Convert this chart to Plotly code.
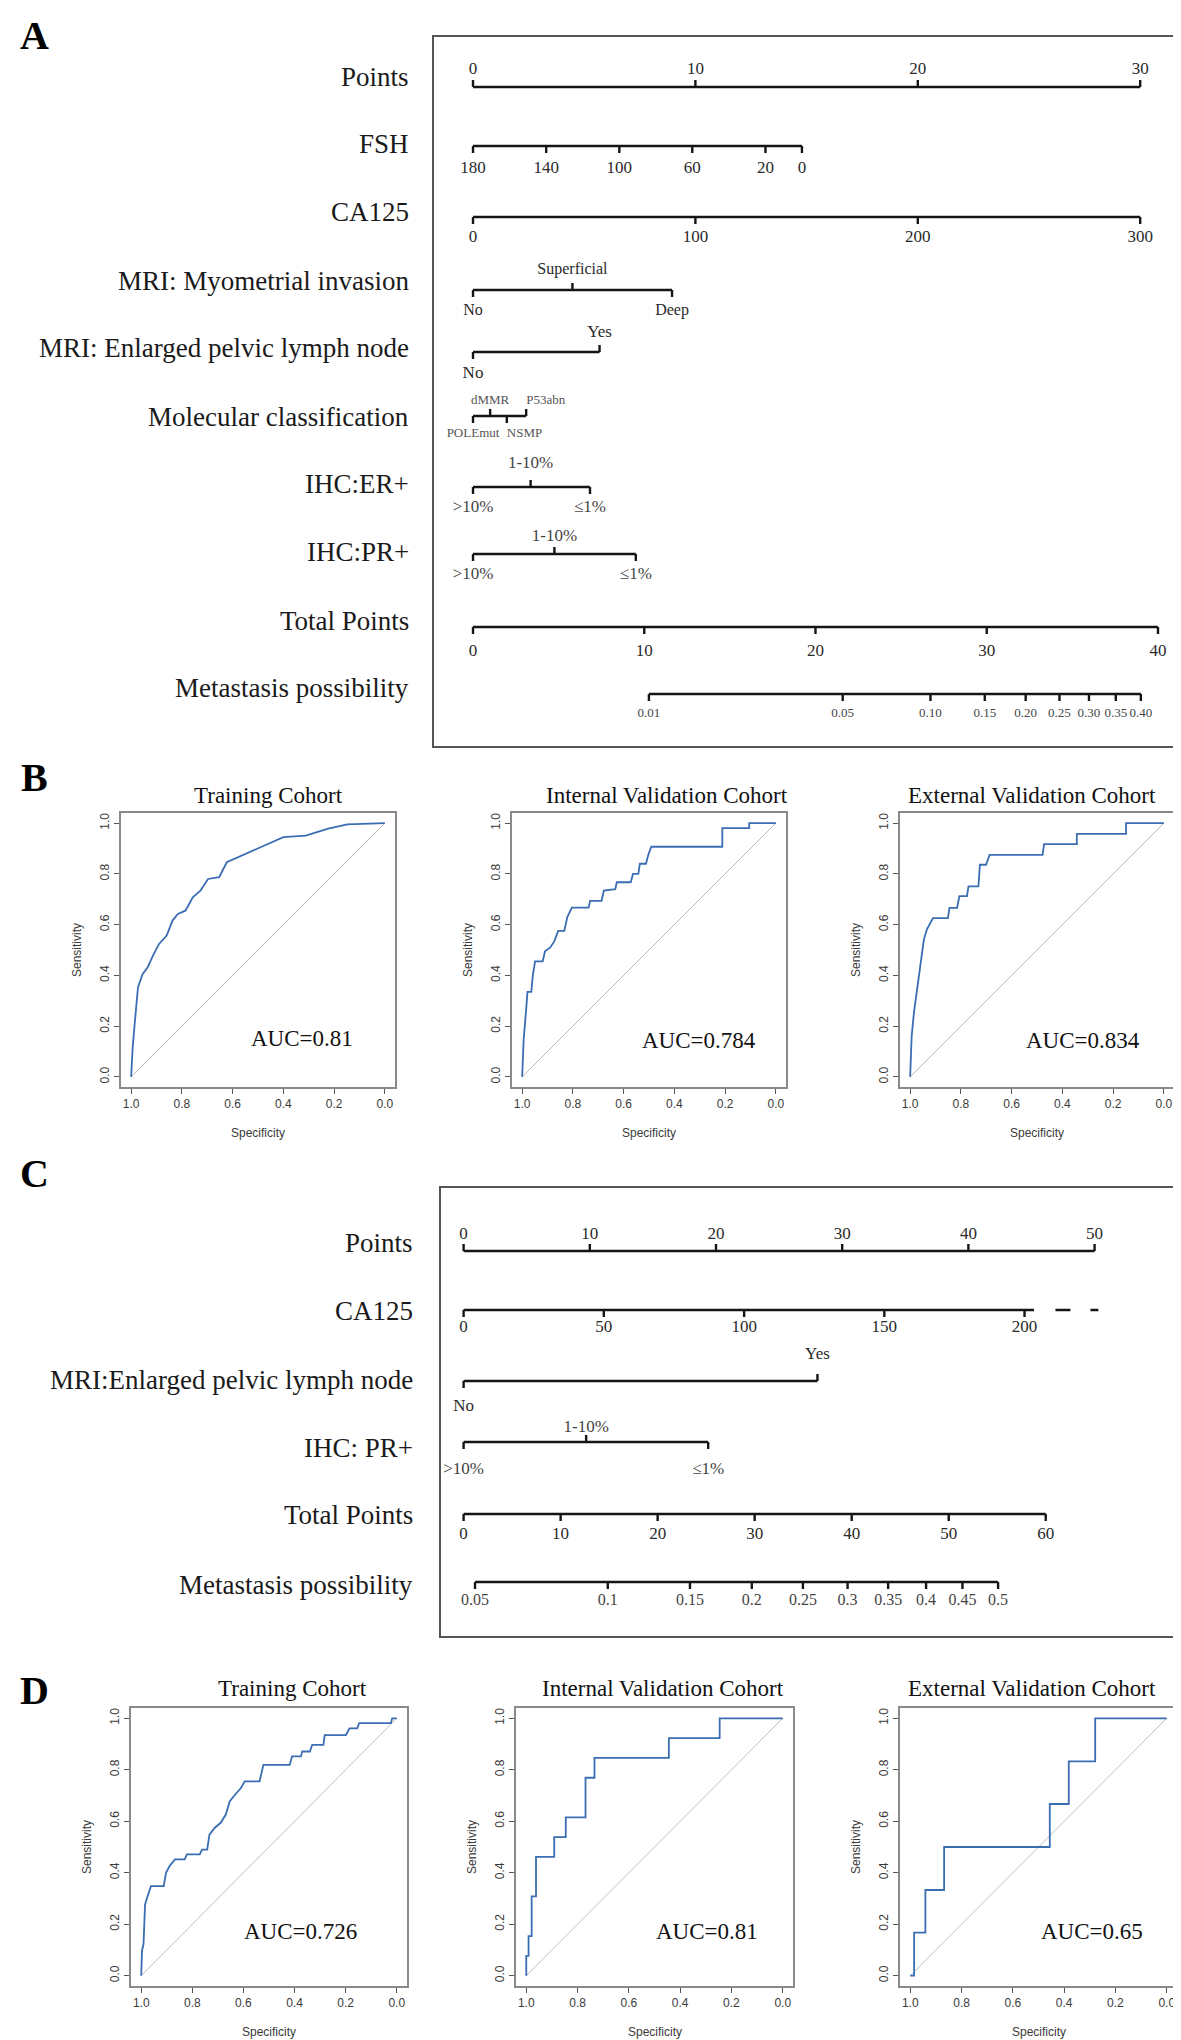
import numpy as np
import plotly.graph_objects as go

W, H = 1181, 2040

# ---------------- Panel A nomogram data ----------------
A_points_ticks = [0, 10, 20, 30]
A_fsh_levels = [180, 140, 100, 60, 20, 0]
A_fsh_points = [0, 3.29, 6.58, 9.86, 13.15, 14.79]
A_ca125_levels = [0, 100, 200, 300]
A_ca125_points = [0, 10, 20, 30]
A_mi_levels = ["No", "Superficial", "Deep"]
A_mi_points = [0, 4.47, 8.95]
A_epln_levels = ["No", "Yes"]
A_epln_points = [0, 5.69]
A_mol_levels = ["POLEmut", "dMMR", "NSMP", "P53abn"]
A_mol_points = [0, 0.77, 1.52, 2.39]
A_er_levels = [">10%", "1-10%", "≤1%"]
A_er_points = [0, 2.59, 5.26]
A_pr_levels = [">10%", "1-10%", "≤1%"]
A_pr_points = [0, 3.66, 7.32]
A_total_ticks = [0, 10, 20, 30, 40]
A_total_span = 30.8          # 40 total points on the Points scale
A_prob_ticks = [0.01, 0.05, 0.10, 0.15, 0.20, 0.25, 0.30, 0.35, 0.40]
A_prob_labels = ["0.01", "0.05", "0.10", "0.15", "0.20", "0.25", "0.30", "0.35", "0.40"]
A_lp_a, A_lp_b = 41.78, 6.857   # total points = a + b*logit(p)

# ---------------- Panel C nomogram data ----------------
C_points_ticks = [0, 10, 20, 30, 40, 50]
C_ca125_levels = [0, 50, 100, 150, 200]
C_ca125_points = [0, 11.11, 22.23, 33.34, 44.45]
C_ca125_end = 45.2
C_ca125_dash = [46.9, 50.3]
C_epln_levels = ["No", "Yes"]
C_epln_points = [0, 28.04]
C_pr_levels = [">10%", "1-10%", "≤1%"]
C_pr_points = [0, 9.71, 19.38]
C_total_ticks = [0, 10, 20, 30, 40, 50, 60]
C_total_span = 46.13         # 60 total points on the Points scale
C_prob_ticks = [0.05, 0.1, 0.15, 0.2, 0.25, 0.3, 0.35, 0.4, 0.45, 0.5]
C_prob_labels = ["0.05", "0.1", "0.15", "0.2", "0.25", "0.3", "0.35", "0.4", "0.45", "0.5"]
C_lp_a, C_lp_b = 55.09, 18.31

# ---------------- ROC data (specificity, sensitivity) ----------------
B_train_spec = [1.0, 0.994, 0.985, 0.973, 0.955, 0.935, 0.914, 0.89, 0.86, 0.837, 0.816, 0.786, 0.757, 0.727,
                0.697, 0.653, 0.623, 0.593, 0.549, 0.49, 0.445, 0.4, 0.312, 0.267, 0.223, 0.148, 0.03, 0.0]
B_train_sens = [0.0, 0.116, 0.221, 0.353, 0.405, 0.432, 0.478, 0.524, 0.557, 0.616, 0.642, 0.655, 0.708, 0.734,
                0.78, 0.787, 0.846, 0.859, 0.879, 0.905, 0.925, 0.945, 0.951, 0.964, 0.978, 0.995, 1.0, 1.0]
B_int_spec = [1.0, 0.994, 0.985, 0.979, 0.964, 0.958, 0.949, 0.919, 0.91, 0.889, 0.873, 0.858, 0.834, 0.822,
              0.804, 0.738, 0.732, 0.687, 0.678, 0.633, 0.627, 0.572, 0.563, 0.542, 0.536, 0.512, 0.503, 0.491,
              0.211, 0.211, 0.105, 0.105, 0.0]
B_int_sens = [0.0, 0.149, 0.255, 0.335, 0.335, 0.40, 0.455, 0.455, 0.495, 0.51, 0.535, 0.575, 0.575, 0.63,
              0.667, 0.667, 0.694, 0.694, 0.734, 0.74, 0.767, 0.767, 0.80, 0.80, 0.84, 0.84, 0.874, 0.907,
              0.907, 0.98, 0.98, 1.0, 1.0]
B_ext_spec = [1.0, 0.994, 0.985, 0.97, 0.955, 0.946, 0.934, 0.91, 0.851, 0.845, 0.815, 0.806, 0.776, 0.770,
              0.731, 0.725, 0.701, 0.687, 0.478, 0.472, 0.343, 0.343, 0.149, 0.149, 0.0]
B_ext_sens = [0.0, 0.161, 0.253, 0.371, 0.476, 0.541, 0.581, 0.626, 0.626, 0.666, 0.666, 0.712, 0.712, 0.751,
              0.751, 0.836, 0.836, 0.875, 0.875, 0.917, 0.917, 0.958, 0.958, 1.0, 1.0]
D_train_spec = [1.0, 0.997, 0.991, 0.985, 0.977, 0.962, 0.912, 0.903, 0.889, 0.868, 0.83, 0.821, 0.771, 0.762,
                0.742, 0.733, 0.713, 0.689, 0.669, 0.654, 0.633, 0.61, 0.595, 0.537, 0.522, 0.419, 0.41, 0.375,
                0.37, 0.34, 0.331, 0.287, 0.282, 0.199, 0.185, 0.155, 0.147, 0.023, 0.018, 0.0]
D_train_sens = [0.0, 0.097, 0.123, 0.277, 0.303, 0.348, 0.348, 0.4, 0.426, 0.452, 0.452, 0.471, 0.471, 0.49,
                0.49, 0.548, 0.574, 0.594, 0.626, 0.677, 0.703, 0.729, 0.755, 0.755, 0.819, 0.819, 0.852, 0.852,
                0.871, 0.871, 0.897, 0.897, 0.935, 0.935, 0.961, 0.961, 0.981, 0.981, 1.0, 1.0]
D_int_spec = [1.0, 1.0, 0.991, 0.991, 0.979, 0.979, 0.962, 0.962, 0.891, 0.891, 0.846, 0.846, 0.769, 0.769,
              0.734, 0.734, 0.444, 0.444, 0.246, 0.246, 0.0]
D_int_sens = [0.0, 0.077, 0.077, 0.154, 0.154, 0.308, 0.308, 0.462, 0.462, 0.538, 0.538, 0.615, 0.615, 0.769,
              0.769, 0.846, 0.846, 0.923, 0.923, 1.0, 1.0]
D_ext_spec = [1.0, 0.985, 0.985, 0.941, 0.941, 0.868, 0.868, 0.456, 0.456, 0.382, 0.382, 0.279, 0.279, 0.0]
D_ext_sens = [0.0, 0.0, 0.167, 0.167, 0.333, 0.333, 0.5, 0.5, 0.667, 0.667, 0.833, 0.833, 1.0, 1.0]

roc_titles = ["Training Cohort", "Internal Validation Cohort", "External Validation Cohort"]
B_auc = ["AUC=0.81", "AUC=0.784", "AUC=0.834"]
D_auc = ["AUC=0.726", "AUC=0.81", "AUC=0.65"]

SERIF = "Liberation Serif, Times New Roman, serif"
SANS = "Liberation Sans, Arial, sans-serif"
LINE_C = "#151515"
TICK_LEN = 7


def logit(p):
    p = np.asarray(p, dtype=float)
    return np.log(p / (1 - p))


fig = go.Figure()
annotations = []


def add_row(xa, ya, y, xs, labels, sides, offs, fsize=17, color="#2a2a2a",
            line_lo=None, line_hi=None, anchors=None):
    lo = min(xs) if line_lo is None else line_lo
    hi = max(xs) if line_hi is None else line_hi
    lx, ly = [lo, hi, None], [y, y, None]
    for x, s in zip(xs, sides):
        lx += [x, x, None]
        ly += [y, y - TICK_LEN if s == "a" else y + TICK_LEN, None]
    fig.add_trace(go.Scatter(x=lx, y=ly, xaxis=xa, yaxis=ya, mode="lines",
                             line=dict(color=LINE_C, width=2.4), showlegend=False,
                             hoverinfo="skip"))
    ty = [y - offs[0] if s == "a" else y + offs[1] for s in sides]
    tp = anchors if anchors is not None else ["middle center"] * len(xs)
    fig.add_trace(go.Scatter(x=list(xs), y=ty, xaxis=xa, yaxis=ya, mode="text",
                             text=[str(t) for t in labels], textposition=tp,
                             textfont=dict(family=SERIF, size=fsize, color=color),
                             showlegend=False, hoverinfo="skip"))


def row_label(text, ya_ref, y, right_px):
    annotations.append(dict(text=text, x=right_px / W, y=y, xref="paper", yref=ya_ref,
                            xanchor="right", yanchor="middle", showarrow=False,
                            font=dict(family=SERIF, size=27, color="#1a1a1a")))


# ---------------- Panel A ----------------
xa, ya = "x", "y"
A_rows = [
    ("Points", 79, 69, A_points_ticks, A_points_ticks, ["a"] * 4, (17, 0), 17, "#2a2a2a", None),
    ("FSH", 138, 136, A_fsh_points, A_fsh_levels, ["b"] * 6, (0, 23), 17, "#2a2a2a", None),
    ("CA125", 209, 204, A_ca125_points, A_ca125_levels, ["b"] * 4, (0, 21), 17, "#2a2a2a", None),
    ("MRI: Myometrial invasion", 282, 273, A_mi_points, A_mi_levels, ["b", "a", "b"], (20, 21), 16,
     "#2a2a2a", None),
    ("MRI: Enlarged pelvic lymph node", 344, 340, A_epln_points, A_epln_levels, ["b", "a"], (19, 22), 17,
     "#2a2a2a", None),
    ("Molecular classification", 408, 409, A_mol_points, A_mol_levels, ["b", "a", "b", "a"], (15, 18), 13,
     "#555555", ["middle center", "middle center", "middle right", "middle right"]),
    ("IHC:ER+", 479, 476, A_er_points, A_er_levels, ["b", "a", "b"], (23, 21), 17, "#444444", None),
    ("IHC:PR+", 546, 544, A_pr_points, A_pr_levels, ["b", "a", "b"], (17, 21), 17, "#444444", None),
]
for name, yl, ylab, xs, labs, sides, offs, fs, col, anc in A_rows:
    add_row(xa, ya, yl, xs, labs, sides, offs, fs, col, anchors=anc)
    row_label(name, ya, ylab, 403)

A_tp_x = [t * A_total_span / 40 for t in A_total_ticks]
add_row(xa, ya, 619, A_tp_x, A_total_ticks, ["b"] * len(A_total_ticks), (0, 25), 17)
row_label("Total Points", ya, 613, 403)
A_met_x = list((A_lp_a + A_lp_b * logit(A_prob_ticks)) * A_total_span / 40)
add_row(xa, ya, 686, A_met_x, A_prob_labels, ["b"] * len(A_prob_ticks), (0, 20), 13, "#444444")
row_label("Metastasis possibility", ya, 680, 403)

# ---------------- Panel C ----------------
xa, ya = "x2", "y2"
add_row(xa, ya, 1243, C_points_ticks, C_points_ticks, ["a"] * 6, (16, 0), 17)
row_label("Points", ya, 1235, 407)
add_row(xa, ya, 1302, C_ca125_points, C_ca125_levels, ["b"] * 5, (0, 18), 17, line_hi=C_ca125_end)
fig.add_trace(go.Scatter(x=C_ca125_dash, y=[1302, 1302], xaxis=xa, yaxis=ya, mode="lines",
                         line=dict(color=LINE_C, width=2.4, dash="15px,20px,10px,200px"),
                         showlegend=False, hoverinfo="skip"))
row_label("CA125", ya, 1303, 407)
add_row(xa, ya, 1373, C_epln_points, C_epln_levels, ["b", "a"], (26, 26), 17)
row_label("MRI:Enlarged pelvic lymph node", ya, 1372, 407)
add_row(xa, ya, 1434, C_pr_points, C_pr_levels, ["b", "a", "b"], (14, 28), 17, "#444444")
row_label("IHC: PR+", ya, 1440, 407)
C_tp_x = [t * C_total_span / 60 for t in C_total_ticks]
add_row(xa, ya, 1506, C_tp_x, C_total_ticks, ["b"] * len(C_total_ticks), (0, 21), 17)
row_label("Total Points", ya, 1507, 407)
C_met_x = list((C_lp_a + C_lp_b * logit(C_prob_ticks)) * C_total_span / 60)
add_row(xa, ya, 1574, C_met_x, C_prob_labels, ["b"] * len(C_prob_ticks), (0, 19), 16, "#444444")
row_label("Metastasis possibility", ya, 1577, 407)

# ---------------- ROC panels ----------------
roc_sets = [
    (B_train_spec, B_train_sens), (B_int_spec, B_int_sens), (B_ext_spec, B_ext_sens),
    (D_train_spec, D_train_sens), (D_int_spec, D_int_sens), (D_ext_spec, D_ext_sens),
]
roc_frames = [(113, 805, 274, 274), (504, 805, 274, 274), (892, 805, 274, 274),
              (123, 1700, 276, 278), (508, 1700, 277, 278), (892, 1700, 277, 278)]
title_pos = [(260, 788), (659, 788), (1024, 788), (284, 1680), (655, 1680), (1024, 1680)]
auc_pos = [(294, 1030), (691, 1032), (1075, 1032), (292, 1923), (699, 1923), (1084, 1923)]
auc_txt = B_auc + D_auc

layout_axes = {}
for i, ((spec, sens), (left, top, w, h)) in enumerate(zip(roc_sets, roc_frames)):
    k = i + 3
    xr, yr = f"x{k}", f"y{k}"
    fig.add_trace(go.Scatter(x=[1, 0], y=[0, 1], xaxis=xr, yaxis=yr, mode="lines",
                             line=dict(color="#bdbdbd", width=1), showlegend=False, hoverinfo="skip"))
    fig.add_trace(go.Scatter(x=spec, y=sens, xaxis=xr, yaxis=yr, mode="lines",
                             line=dict(color="#3b6db3", width=1.8), showlegend=False))
    ax_common = dict(showline=True, mirror=True, linecolor="#8a8a8a", linewidth=1.5,
                     showgrid=False, zeroline=False, ticks="outside", ticklen=5,
                     tickcolor="#555555", tickvals=[0, 0.2, 0.4, 0.6, 0.8, 1.0], tickformat=".1f",
                     tickfont=dict(family=SANS, size=12, color="#3a3a3a"))
    layout_axes[f"xaxis{k}"] = dict(ax_common, domain=[left / W, (left + w) / W], range=[1.04, -0.04],
                                    anchor=yr)
    layout_axes[f"yaxis{k}"] = dict(ax_common, domain=[1 - (top + h) / H, 1 - top / H], range=[-0.04, 1.04],
                                    anchor=xr, tickangle=-90)
    tx, ty = title_pos[i]
    annotations.append(dict(text=roc_titles[i % 3], x=tx / W, y=1 - ty / H, xref="paper", yref="paper",
                            showarrow=False, xanchor="center", yanchor="middle",
                            font=dict(family=SERIF, size=23, color="#111111")))
    axx, axy = auc_pos[i]
    annotations.append(dict(text=auc_txt[i], x=axx / W, y=1 - axy / H, xref="paper", yref="paper",
                            showarrow=False, xanchor="center", yanchor="middle",
                            font=dict(family=SERIF, size=23, color="#111111")))
    spy = top + h + 46
    annotations.append(dict(text="Specificity", x=(left + w / 2) / W, y=1 - spy / H, xref="paper",
                            yref="paper", showarrow=False, xanchor="center", yanchor="middle",
                            font=dict(family=SANS, size=12, color="#3a3a3a")))
    annotations.append(dict(text="Sensitivity", x=(left - 44) / W, y=1 - (top + h / 2) / H, xref="paper",
                            yref="paper", showarrow=False, xanchor="center", yanchor="middle", textangle=-90,
                            font=dict(family=SANS, size=12, color="#3a3a3a")))

# panel letters
for letter, (lx, ly) in zip(["A", "B", "C", "D"], [(26, 28), (26, 769), (26, 1165), (26, 1682)]):
    annotations.append(dict(text=f"<b>{letter}</b>", x=lx / W, y=1 - ly / H, xref="paper", yref="paper",
                            showarrow=False, xanchor="center", yanchor="middle",
                            font=dict(family=SERIF, size=40, color="#000000")))

box_axis = dict(showline=True, mirror=True, linecolor="#555555", linewidth=1.5, showgrid=False,
                zeroline=False, showticklabels=False, ticks="")

fig.update_layout(
    width=W, height=H, autosize=False,
    margin=dict(l=0, r=0, t=0, b=0),
    paper_bgcolor="white", plot_bgcolor="white",
    showlegend=False,
    xaxis=dict(box_axis, domain=[426 / W, 1170 / W], range=[-1.754, 31.70], anchor="y"),
    yaxis=dict(box_axis, domain=[1 - 738 / H, 1 - 29 / H], range=[738, 29], anchor="x"),
    xaxis2=dict(box_axis, domain=[433 / W, 1171 / W], range=[-1.791, 56.69], anchor="y2"),
    yaxis2=dict(box_axis, domain=[1 - 1628 / H, 1 - 1180 / H], range=[1628, 1180], anchor="x2"),
    annotations=annotations,
    **layout_axes,
)

fig.write_html("out.html")
